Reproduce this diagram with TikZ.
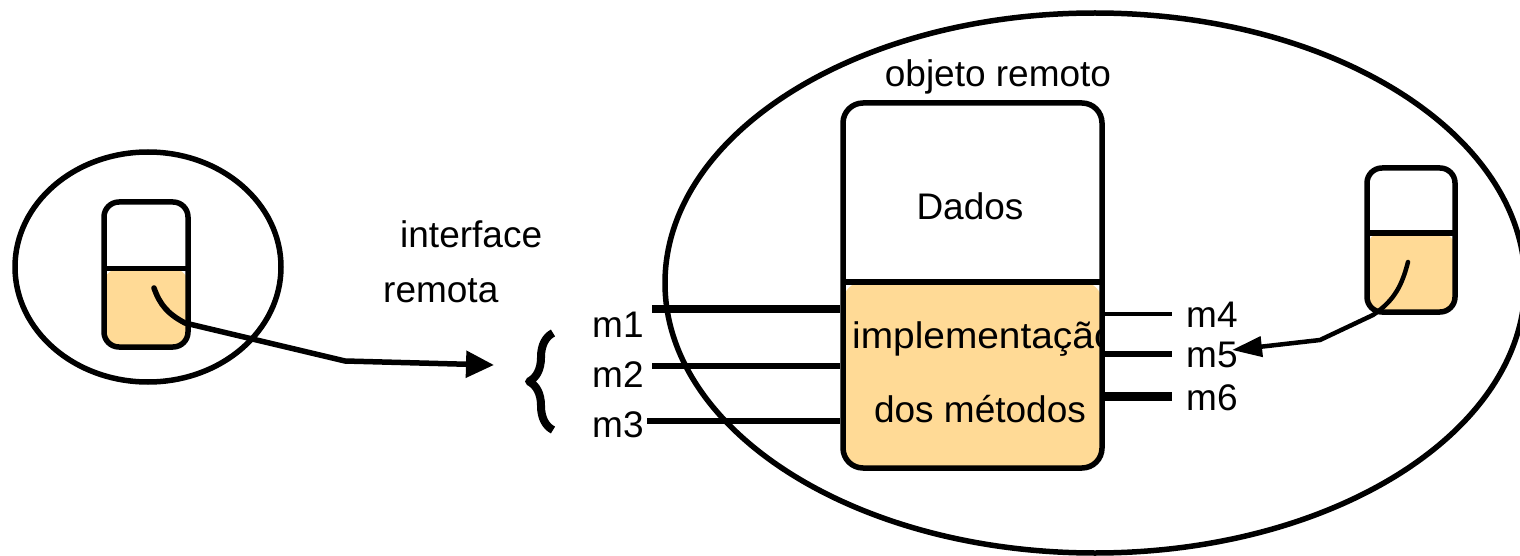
\documentclass[tikz,border=0pt]{standalone}
\usepackage{fontspec}
\setmainfont{Liberation Sans}
\usetikzlibrary{arrows.meta,calc,decorations.pathreplacing,shapes.geometric}
\definecolor{objfill}{RGB}{255,218,150}
\begin{document}
\begin{tikzpicture}[x=1pt,y=-1pt,line join=round,
  lbl/.style={font=\fontsize{37}{44}\selectfont, inner sep=0pt, anchor=base west},
  lblc/.style={font=\fontsize{37}{44}\selectfont, inner sep=0pt, anchor=base},
  proc/.style={draw, ellipse, line width=5.5pt, inner sep=0pt},
  objbox/.style={draw, rectangle, line width=5.5pt, rounded corners=#1, inner sep=0pt},
  split/.style={path picture={
    \fill[objfill] ($(path picture bounding box.north west)!#1!(path picture bounding box.south west)$)
      rectangle (path picture bounding box.south east);
    \draw[line width=5.5pt] ($(path picture bounding box.north west)!#1!(path picture bounding box.south west)$)
      -- ($(path picture bounding box.north east)!#1!(path picture bounding box.south east)$);
  }},
  call/.style={line width=5.5pt, line cap=round}
]
\useasboundingbox (0,0) rectangle (1520,556);

% client process with its object
\node[proc, minimum width=266pt, minimum height=230pt] (client) at (148,267) {};
\node[objbox=15pt, split=0.46, minimum width=84pt, minimum height=145pt] (cliobj) at (146,274.5) {};

% server process
\node[proc, minimum width=860pt, minimum height=540pt] (server) at (1095,283) {};
\node[lblc] (objlbl) at (998,87) {objeto remoto};

% remote object: data on top, method implementation below
\node[objbox=20pt, split=0.49, minimum width=259pt, minimum height=365pt] (remobj) at (972.5,285.5) {};
\node[lblc] (dados) at (970,219) {Dados};
\begin{scope}
  \clip (843,103) rectangle (1099,468);
  \node[lbl] (impl) at (852,348) {\scalebox{1.05}[1]{implementação}};
\end{scope}
\node[lblc] (metodos) at (980,422) {dos métodos};

% other object inside the server
\node[objbox=15pt, split=0.45, minimum width=88pt, minimum height=144pt] (srvobj) at (1411,240) {};

% remote interface methods
\coordinate (m1s) at (652,309);
\coordinate (m2s) at (652,366);
\coordinate (m3s) at (647,421);
\draw[line width=7.5pt] (m1s) -- (m1s -| remobj.west);
\draw[line width=5.5pt] (m2s) -- (m2s -| remobj.west);
\draw[line width=5.5pt] (m3s) -- (m3s -| remobj.west);
\node[lbl] (m1) at (592,337) {m1};
\node[lbl] (m2) at (592,387) {m2};
\node[lbl] (m3) at (592,437) {m3};

% local methods
\coordinate (m4e) at (1172,314);
\coordinate (m5e) at (1172,354);
\coordinate (m6e) at (1172,396);
\draw[line width=4.5pt] (m4e -| remobj.east) -- (m4e);
\draw[line width=5.5pt] (m5e -| remobj.east) -- (m5e);
\draw[line width=9pt] (m6e -| remobj.east) -- (m6e);
\node[lbl] (m4) at (1186,327) {m4};
\node[lbl] (m5) at (1186,367) {m5};
\node[lbl] (m6) at (1186,410) {m6};

% interface label and brace
\node[lbl] (iflbl) at (400,247) {interface};
\node[lbl] (remlbl) at (383,302) {remota};
\coordinate (brbot) at (553,430);
\coordinate (brtop) at (553,333);
\draw[line width=8pt, decorate, decoration={brace, amplitude=24pt}] (brbot) -- (brtop);

% invocations
\coordinate (cliA) at (154,288);
\coordinate (ifc) at (494,365);
\draw[call, -{Triangle[length=28pt,width=26pt]}]
  (cliA) .. controls (160,305) and (168,314) .. (185,323) -- (345,361) -- (ifc);
\coordinate (srvA) at (1408,262);
\coordinate (m5tip) at (1232,350);
\draw[call, line width=4.5pt, -{Triangle[length=30pt,width=20pt]}]
  (srvA) .. controls (1402,285) and (1395,300) .. (1373,315) -- (1320,340) -- (m5tip);
\end{tikzpicture}
\end{document}
